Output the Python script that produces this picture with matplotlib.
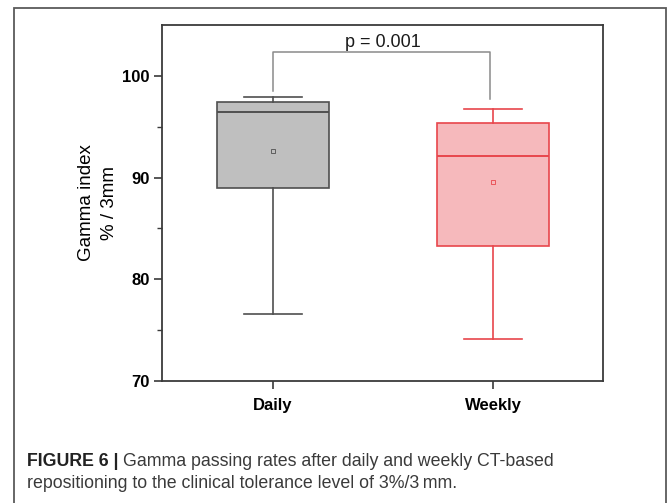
"""
Gamma passing rates: daily vs weekly CT-based repositioning (box plot + caption).
"""

import matplotlib
matplotlib.use("Agg")
import matplotlib.pyplot as plt
import matplotlib.patches as patches

plt.rcParams["font.family"] = ["Liberation Sans", "DejaVu Sans"]

# ── Datos ───────────────────────────────────────────────────────────
categorias = ["Daily", "Weekly"]
whis_alto  = [97.9, 96.7]
q3         = [97.4, 95.4]
mediana    = [96.4, 92.1]
q1         = [89.0, 83.3]
whis_bajo  = [76.6, 74.1]
media      = [92.6, 89.6]

p_texto   = "p = 0.001"
y_ticks   = [70, 80, 90, 100]
y_minor   = [75, 85, 95]

# ── Paleta ──────────────────────────────────────────────────────────
AXIS   = "#3a3a3a"
GRIS   = "#bfbfbf"
GRIS_L = "#4f4f4f"
ROSA   = "#f6b9bc"
ROJO   = "#e8464c"
BRACK  = "#8a8a8a"

W, H = 670, 503
fig = plt.figure(figsize=(W / 100, H / 100), dpi=100, facecolor="white")

# marco exterior del panel
marco = patches.Rectangle((14 / W, -0.05), (666 - 14) / W, 1.05 - 8 / H,
                          transform=fig.transFigure, fill=False,
                          edgecolor="#5a5a5a", linewidth=1.3)
fig.patches.append(marco)

ax = fig.add_axes([162 / W, 1 - 381 / H, (603 - 162) / W, (381 - 25) / H])

stats = []
for i, nom in enumerate(categorias):
    stats.append(dict(label=nom, whislo=whis_bajo[i], q1=q1[i], med=mediana[i],
                      q3=q3[i], whishi=whis_alto[i], mean=media[i], fliers=[]))

pos = [1, 2]
colores = [(GRIS, GRIS_L), (ROSA, ROJO)]
for i, st in enumerate(stats):
    relleno, borde = colores[i]
    ax.bxp([st], positions=[pos[i]], widths=0.51, patch_artist=True,
           showmeans=True, showfliers=False,
           boxprops=dict(facecolor=relleno, edgecolor=borde, linewidth=1.2),
           medianprops=dict(color=borde, linewidth=1.4),
           whiskerprops=dict(color=borde, linewidth=1.2),
           capprops=dict(color=borde, linewidth=1.2),
           capwidths=0.26,
           meanprops=dict(marker="s", markersize=3, markerfacecolor="none",
                          markeredgecolor=borde, markeredgewidth=0.6))

# ── Corchete de significancia ──────────────────────────────────────
y_top = 102.3
ax.plot([1, 1, 1.985, 1.985], [98.5, y_top, y_top, 97.7],
        color=BRACK, linewidth=1.1, clip_on=False)
ax.text(1.5, 102.4, p_texto, ha="center", va="bottom", fontsize=13, color="#1a1a1a")

# ── Ejes ────────────────────────────────────────────────────────────
ax.set_xlim(0.495, 2.5)
ax.set_ylim(70, 105)
ax.set_yticks(y_ticks)
ax.set_yticks(y_minor, minor=True)
ax.set_yticklabels([str(v) for v in y_ticks], fontsize=12, fontweight="bold")
ax.set_xticks(pos)
ax.set_xticklabels(categorias, fontsize=12, fontweight="bold")
for sp in ax.spines.values():
    sp.set_edgecolor(AXIS)
    sp.set_linewidth(1.3)
ax.tick_params(axis="y", which="major", direction="out", length=6, width=1.2,
               color=AXIS, pad=3)
ax.tick_params(axis="y", which="minor", direction="out", length=3.5, width=1.0,
               color=AXIS)
ax.tick_params(axis="x", direction="out", length=6, width=1.2, color=AXIS, pad=6)
ax.set_ylabel("Gamma index\n% / 3mm", fontsize=13.5, labelpad=3, linespacing=1.45)

# ── Pie de figura ──────────────────────────────────────────────────
TAM = 12.8
fig.canvas.draw()
t_bold = fig.text(27 / W, 1 - 461 / H, "FIGURE 6 |", fontsize=TAM,
                  fontweight="bold", color="#222222", va="center")
fig.canvas.draw()
bb = t_bold.get_window_extent()
fig.text(bb.x1 / W + 5 / W, 1 - 461 / H,
         "Gamma passing rates after daily and weekly CT-based",
         fontsize=TAM, color="#3a3a3a", va="center")
fig.text(27 / W, 1 - 484 / H,
         "repositioning to the clinical tolerance level of 3%/3\u2009mm.",
         fontsize=TAM, color="#3a3a3a", va="center")

fig.savefig("out.png", dpi=100, facecolor="white")
